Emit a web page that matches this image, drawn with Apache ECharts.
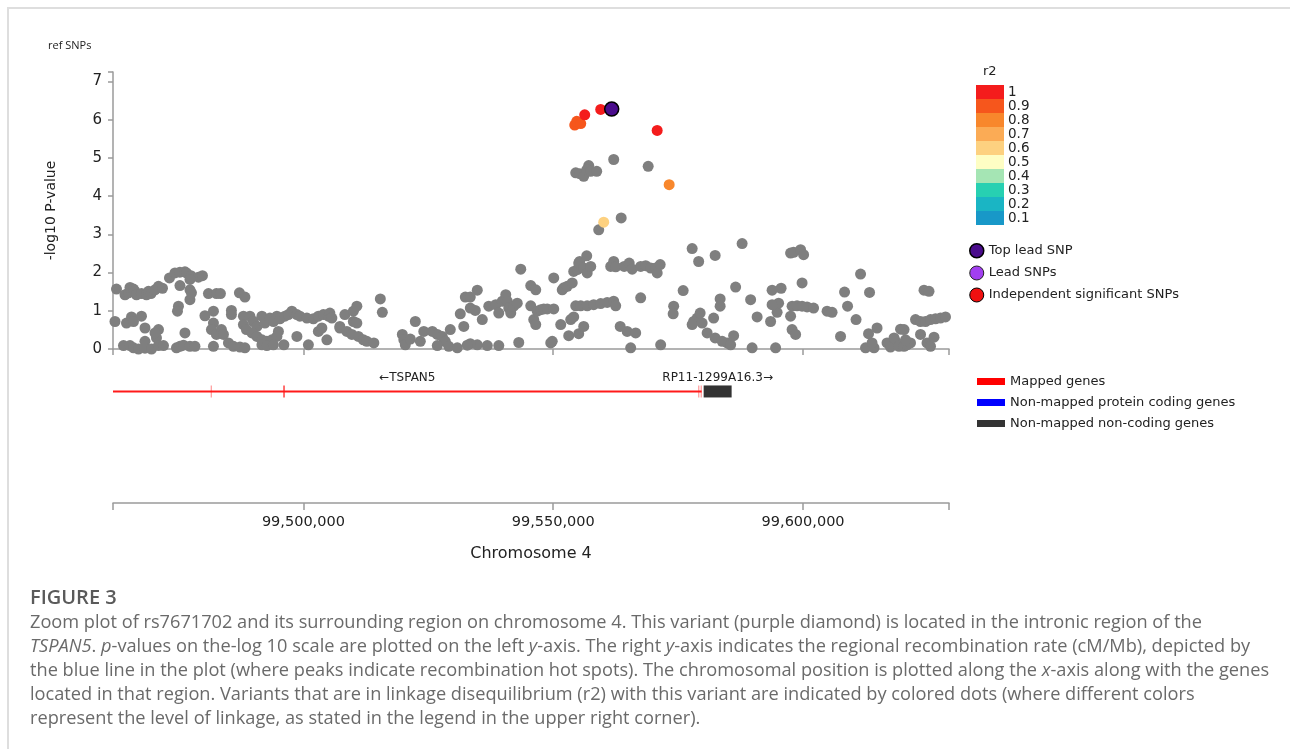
<!DOCTYPE html>
<html><head><meta charset="utf-8">
<script src="https://cdn.jsdelivr.net/npm/echarts@6/dist/echarts.min.js"></script>
<style>
html,body{margin:0;padding:0;background:#fff;}
#chart{position:absolute;left:0;top:0;width:1290px;height:749px;}
#frame{position:absolute;left:7px;top:7px;right:0;bottom:0;border-top:2px solid #dedede;border-left:2px solid #dedede;pointer-events:none;}
#caption{position:absolute;left:30px;top:585px;font-family:'Open Sans',sans-serif;font-size:18.2px;line-height:24px;color:#6a6a6a;white-space:nowrap;}
#caption .fig{font-weight:600;color:#5a5a5a;font-size:20px;}
</style></head>
<body>
<div id="chart"></div>
<div id="frame"></div>
<div id="caption"><span class="fig">FIGURE 3</span><br>Zoom plot of rs7671702 and its surrounding region on chromosome 4. This variant (purple diamond) is located in the intronic region of the<br><i>TSPAN5</i>. <i>p</i>-values on the-log 10 scale are plotted on the left <i>y</i>-axis. The right <i>y</i>-axis indicates the regional recombination rate (cM/Mb), depicted by<br>the blue line in the plot (where peaks indicate recombination hot spots). The chromosomal position is plotted along the <i>x</i>-axis along with the genes<br>located in that region. Variants that are in linkage disequilibrium (r2) with this variant are indicated by colored dots (where different colors<br>represent the level of linkage, as stated in the legend in the upper right corner).</div>
<script>
// ---------- data ----------
const xMin = 99461900;
const xMax = 99629200;
const xTicks = [99500000, 99550000, 99600000];
const yMax = 7.25;
const yTicks = [0, 1, 2, 3, 4, 5, 6, 7];

// SNPs not in LD with the lead SNP (grey): [position, -log10 P]
const greySNPs = [
[99462600,1.57],[99464300,1.42],[99465000,1.47],[99465300,1.61],[99466000,1.57],[99466300,1.51],[99466600,1.42],[99467600,1.45],[99468600,1.42],[99469000,1.51],[99469500,1.45],[99470300,1.55],[99471000,1.64],[99471800,1.59],
[99473200,1.86],[99474300,1.99],[99475300,2.01],[99476300,2.02],[99476600,1.99],[99477500,1.92],[99479000,1.88],[99479800,1.92],[99475300,1.66],[99477300,1.82],[99477300,1.55],[99477300,1.29],[99477600,1.47],[99475000,1.12],[99474800,0.99],[99481000,1.45],[99482600,1.45],[99483400,1.45],[99487200,1.47],[99488300,1.36],
[99462300,0.72],[99464600,0.68],[99465600,0.84],[99466000,0.72],[99467600,0.86],[99468300,0.55],[99471000,0.51],[99468300,0.20],[99470600,0.29],[99470300,0.42],[99476300,0.42],[99480300,0.87],[99482000,0.99],[99482000,0.68],[99481600,0.51],[99482600,0.38],[99483600,0.51],[99484000,0.38],[99485600,1.01],[99485600,0.90],[99488000,0.86],[99488000,0.64],[99489300,0.86],[99490000,0.72],[99490700,0.59],[99491700,0.86],[99492300,0.68],[99493300,0.81],[99494000,0.72],[99494700,0.86],[99495300,0.79],[99496300,0.86],[99497000,0.90],[99497700,0.99],[99498700,0.90],[99499300,0.86],[99500700,0.81],[99502000,0.79],[99503000,0.86],[99504000,0.90],[99505000,0.86],[99505300,0.94],[99505700,0.81],[99507300,0.59],[99508300,0.90],[99510000,0.99],[99510700,1.12],[99510000,0.72],[99510700,0.68],
[99488600,0.51],[99489700,0.42],[99490700,0.33],[99491700,0.24],[99492700,0.20],[99493700,0.24],[99494700,0.33],[99495000,0.46],[99496100,0.11],[99498700,0.33],[99503000,0.46],[99503700,0.55],[99504700,0.24],[99507300,0.55],[99508700,0.46],[99509700,0.38],[99511000,0.33],[99512000,0.24],[99512700,0.20],
[99464000,0.09],[99465300,0.09],[99466000,0.03],[99467000,0.00],[99468300,0.02],[99469600,0.00],[99471000,0.09],[99472000,0.09],[99474600,0.03],[99475300,0.07],[99476000,0.10],[99477300,0.07],[99478300,0.07],[99482000,0.07],[99485000,0.16],[99486000,0.07],[99487300,0.05],[99488300,0.03],[99491700,0.11],[99492700,0.09],[99494000,0.11],[99501000,0.11],
[99514100,0.16],[99515400,1.31],[99515800,0.96],[99519800,0.38],[99520100,0.24],[99520400,0.11],[99521400,0.26],[99522400,0.72],[99523400,0.20],[99524100,0.46],[99525800,0.46],[99526800,0.38],[99527800,0.33],[99528400,0.20],[99529400,0.51],[99529100,0.07],[99530800,0.03],[99531400,0.92],[99532100,0.59],[99532400,1.36],[99533400,1.36],[99533400,1.07],[99534400,1.01],[99534800,1.54],[99535800,0.77],[99537100,1.12],[99538500,1.16],[99539100,0.94],[99539800,1.25],[99540500,1.42],[99540800,1.25],[99541100,1.07],[99541500,0.94],[99542100,1.12],[99542800,1.20],[99543500,2.09],[99545500,1.66],[99546500,1.55],[99545500,1.13],[99546100,0.77],[99546500,0.64],[99546800,0.99],[99547500,1.03],[99548100,1.05],[99548800,1.05],[99550100,1.05],[99550100,1.86],[99549800,0.20],[99549500,0.16],[99543100,0.17],[99539100,0.09],[99536800,0.09],[99534800,0.11],[99533400,0.14],[99532800,0.10],[99526800,0.09],
[99551500,0.64],[99551800,1.55],[99552100,1.60],[99552800,1.64],[99553800,1.73],[99553500,0.77],[99554100,0.84],[99553100,0.35],[99555100,0.40],[99556100,0.59],[99554100,2.03],[99554800,2.08],[99555100,2.25],[99555300,2.29],[99556700,2.44],[99556100,2.12],[99556800,1.99],[99557500,2.16],[99554500,1.13],[99555500,1.13],[99556800,1.13],[99558100,1.16],[99559500,1.19],[99560800,1.22],[99562100,1.25],[99562500,1.13],[99561500,2.16],[99562100,2.29],[99562500,2.15],[99564200,2.16],[99565200,2.25],[99565800,2.09],[99567500,2.16],[99568500,2.18],[99569500,2.12],[99570500,2.12],[99570800,1.99],[99563400,0.59],[99564800,0.46],[99566500,0.42],[99565500,0.03],[99567500,1.34],[99571500,0.11],
[99559100,3.12],[99563600,3.43],[99554500,4.61],[99555300,4.59],[99556100,4.52],[99557100,4.80],[99556700,4.69],[99557500,4.65],[99558700,4.65],[99562100,4.96],[99569000,4.78],
[99571400,2.21],[99577800,2.63],[99579100,2.29],[99582400,2.45],[99587800,2.76],[99576000,1.53],[99574100,1.12],[99574000,0.92],[99578800,0.81],[99578100,0.72],[99577800,0.64],[99579400,0.94],[99579800,0.68],[99580800,0.42],[99582100,0.81],[99582400,0.29],[99583800,0.20],[99584800,0.16],[99585500,0.11],[99586100,0.35],[99583400,1.31],[99583400,1.12],[99586500,1.62],[99589500,1.29],[99590800,0.84],[99589800,0.03],[99594500,0.03],[99593500,0.72],[99594800,0.96],[99595100,1.20],[99593800,1.16],[99593800,1.54],[99595600,1.59],[99597500,2.51],[99598100,2.53],[99599500,2.60],[99600100,2.47],[99599800,1.73],[99597800,1.12],[99598800,1.13],[99599800,1.12],[99600800,1.10],[99602100,1.07],[99597500,0.86],[99597800,0.51],[99598500,0.38],[99604800,0.99],[99605800,0.96],[99607500,0.33],[99608900,1.12],[99608300,1.49],[99610600,0.77],[99611500,1.96],[99613300,1.48],[99614800,0.55],[99613100,0.40],[99612500,0.03],[99614200,0.03],[99613800,0.16],[99616800,0.16],[99617500,0.05],[99618500,0.20],[99618200,0.29],[99619500,0.52],[99620200,0.51],[99619200,0.07],[99620200,0.07],[99620800,0.11],[99621500,0.16],[99620500,0.24],[99623500,0.38],[99624800,0.16],[99625500,0.07],[99626200,0.31],[99622500,0.77],[99623500,0.72],[99624500,0.72],[99625500,0.77],[99626500,0.79],[99627500,0.81],[99628500,0.84],[99624200,1.54],[99625200,1.51]
];

// SNPs in LD with the lead SNP: [position, -log10 P, r2]
const ldSNPs = [
[99554300,5.86,0.88],[99554700,5.96,0.90],[99555500,5.90,0.90],[99556300,6.13,0.96],
[99559500,6.27,1.00],[99570800,5.72,1.00],[99573200,4.30,0.78],[99560100,3.32,0.62]
];

const topLeadSNP = [[99561700, 6.28]];
const leadSNPs = [];
const indepSigSNPs = [];

// r2 colour bins
const r2Labels = ['1','0.9','0.8','0.7','0.6','0.5','0.4','0.3','0.2','0.1'];
const r2Low    = [0.95,0.85,0.75,0.65,0.55,0.45,0.35,0.25,0.15,0.05];
const r2High   = [1.00,0.95,0.85,0.75,0.65,0.55,0.45,0.35,0.25,0.15];
const r2Colors = ['#f41c1c','#f6561c','#f8872c','#fbab55','#fdd180','#fefec4','#a5e5b4','#27d0b2','#1ab5c4','#1898c8'];

// genes: [start, end]
const mappedGenes = [{name:'TSPAN5', start:99461900, end:99579700, strand:'-'}];
const mappedExons = [[99481450,99481550],[99496000,99496250],[99579000,99579150],[99579500,99579650]];
const proteinGenes = [];
const nonCodingGenes = [{name:'RP11-1299A16.3', start:99580100, end:99585700, strand:'+'}];
const geneRow = 7.8;

// ---------- chart ----------
const chart = echarts.init(document.getElementById('chart'));
const axisCol = '#9a9a9a';
const txtCol = '#222';
const FONT = 'DejaVu Sans';

function fmt(v){ return Math.round(v).toString().replace(/\B(?=(\d{3})+(?!\d))/g, ','); }

function makeGeneRenderer(genes, exons, boxStyle){
  return function(params, api){
    const g = genes[params.dataIndex];
    const y = api.coord([xMin, api.value(2)])[1];
    const x0 = api.coord([api.value(0), api.value(2)])[0];
    const x1 = api.coord([api.value(1), api.value(2)])[0];
    const color = api.visual('color');
    const children = [];
    if (boxStyle) {
      children.push({type:'rect', shape:{x:x0, y:y-6, width:x1-x0, height:12}, style:{fill:color}});
    } else {
      children.push({type:'rect', shape:{x:x0, y:y-1, width:x1-x0, height:2}, style:{fill:color}});
      exons.forEach(function(e){
        const a = api.coord([e[0], api.value(2)])[0];
        const b = api.coord([e[1], api.value(2)])[0];
        children.push({type:'rect', shape:{x:a, y:y-6, width:Math.max(1.2, b-a), height:12}, style:{fill:color, opacity: (b-a) < 1 ? 0.45 : 1}});
      });
    }
    const label = g.strand === '-' ? '\u2190' + g.name : g.name + '\u2192';
    children.push({type:'text', x:(x0+x1)/2, y:y-14, style:{text:label, fill:txtCol, font:'12px "DejaVu Sans"', align:'center', verticalAlign:'middle'}});
    return {type:'group', children:children};
  };
}

const pieces = r2Labels.map(function(l, i){
  const p = {label:l, color:r2Colors[i], gte:r2Low[i]};
  if (i === 0) p.lte = r2High[i]; else p.lt = r2High[i];
  return p;
});

const option = {
  animation:false,
  backgroundColor:'transparent',
  textStyle:{fontFamily:FONT},
  grid:[
    {left:113, right:341, top:72, height:277},
    {left:113, right:341, top:360, height:143}
  ],
  xAxis:[
    {gridIndex:0, type:'value', min:xMin, max:xMax,
     axisLine:{lineStyle:{color:axisCol, width:1.5}},
     axisTick:{customValues:[xMin].concat(xTicks,[xMax]), length:6, lineStyle:{color:axisCol, width:1.5}},
     axisLabel:{show:false}, splitLine:{show:false}},
    {gridIndex:1, type:'value', min:xMin, max:xMax, position:'bottom',
     axisLine:{lineStyle:{color:axisCol, width:1.5}},
     axisTick:{customValues:[xMin].concat(xTicks,[xMax]), length:7, lineStyle:{color:axisCol, width:1.5}},
     axisLabel:{customValues:xTicks, formatter:fmt, fontSize:14.5, color:txtCol, margin:12, fontFamily:FONT},
     splitLine:{show:false},
     name:'Chromosome 4', nameLocation:'middle', nameGap:43,
     nameTextStyle:{fontSize:16, color:txtCol, fontFamily:FONT}},
    ],
  yAxis:[
    {gridIndex:0, type:'value', min:0, max:yMax,
     axisLine:{show:true, lineStyle:{color:axisCol, width:1.5}},
     axisTick:{show:true, customValues:yTicks.concat([yMax]), length:5, lineStyle:{color:axisCol, width:1.5}},
     axisLabel:{customValues:yTicks, fontSize:15, color:txtCol, margin:11, fontFamily:FONT},
     splitLine:{show:false},
     name:'-log10 P-value', nameLocation:'middle', nameGap:55,
     nameTextStyle:{fontSize:14, color:txtCol, fontFamily:FONT}},
    {gridIndex:1, type:'value', min:0, max:10, show:false}
  ],
  visualMap:[{
    type:'piecewise', seriesIndex:1, dimension:2,
    left:976, top:85, padding:0, orient:'vertical', align:'left',
    itemWidth:28, itemHeight:14, itemGap:0, itemSymbol:'rect',
    textGap:4, showLabel:true, selectedMode:false, hoverLink:false,
    textStyle:{fontSize:13.5, color:txtCol, fontFamily:FONT},
    pieces:pieces, outOfRange:{color:'#808080'}
  }],
  legend:[
    {orient:'vertical', left:969, top:243, padding:0, itemGap:7, itemWidth:14, itemHeight:14,
     selectedMode:false, icon:'circle',
     textStyle:{fontSize:13, color:txtCol, fontFamily:FONT},
     data:[
       {name:'Top lead SNP', itemStyle:{color:'#4a0c8c', borderColor:'#000', borderWidth:1.5, opacity:1}},
       {name:'Lead SNPs', itemStyle:{color:'#a23ff0', borderColor:'#222', borderWidth:1, opacity:1}},
       {name:'Independent significant SNPs', itemStyle:{color:'#f01010', borderColor:'#000', borderWidth:1, opacity:1}}
     ]},
    {orient:'vertical', left:977, top:375, padding:0, itemGap:8, itemWidth:28, itemHeight:13,
     selectedMode:false, icon:'rect',
     textStyle:{fontSize:13, color:txtCol, fontFamily:FONT},
     data:[
       {name:'Mapped genes', icon:'path://M0,3H28V10H0Z', itemStyle:{color:'#ff0000', opacity:1}},
       {name:'Non-mapped protein coding genes', icon:'path://M0,3H28V10H0Z', itemStyle:{color:'#0000ff', opacity:1}},
       {name:'Non-mapped non-coding genes', icon:'path://M0,3H28V10H0Z', itemStyle:{color:'#333333', opacity:1}}
     ]}
  ],
  graphic:[
    {type:'text', left:48, top:40, style:{text:'ref SNPs', fill:txtCol, font:'11px "Open Sans"'}},
    {type:'text', left:983, top:65, style:{text:'r2', fill:txtCol, font:'13px "DejaVu Sans"'}}
  ],
  series:[
    {name:'other SNPs', type:'scatter', xAxisIndex:0, yAxisIndex:0, data:greySNPs,
     symbolSize:11, itemStyle:{color:'#7f7f7f', opacity:1}, silent:true},
    {name:'LD SNPs', type:'scatter', xAxisIndex:0, yAxisIndex:0, data:ldSNPs,
     symbolSize:11, itemStyle:{opacity:1}, silent:true},
    {name:'Top lead SNP', type:'scatter', xAxisIndex:0, yAxisIndex:0, data:topLeadSNP,
     symbolSize:14, itemStyle:{color:'#4a0c8c', borderColor:'#000', borderWidth:1.5, opacity:1}, z:5, silent:true},
    {name:'Lead SNPs', type:'scatter', xAxisIndex:0, yAxisIndex:0, data:leadSNPs,
     symbolSize:12, itemStyle:{color:'#a23ff0', borderColor:'#222', borderWidth:1, opacity:1}},
    {name:'Independent significant SNPs', type:'scatter', xAxisIndex:0, yAxisIndex:0, data:indepSigSNPs,
     symbolSize:10, itemStyle:{color:'#f01010', borderColor:'#000', borderWidth:1, opacity:1}},
    {name:'Mapped genes', type:'custom', xAxisIndex:1, yAxisIndex:1,
     itemStyle:{color:'#ff1a1a'},
     renderItem:makeGeneRenderer(mappedGenes, mappedExons, false),
     data:mappedGenes.map(function(g){ return [g.start, g.end, geneRow]; }), silent:true},
    {name:'Non-mapped protein coding genes', type:'custom', xAxisIndex:1, yAxisIndex:1,
     itemStyle:{color:'#0000ff'},
     renderItem:makeGeneRenderer(proteinGenes, [], true),
     data:proteinGenes.map(function(g){ return [g.start, g.end, geneRow]; })},
    {name:'Non-mapped non-coding genes', type:'custom', xAxisIndex:1, yAxisIndex:1,
     itemStyle:{color:'#333333'},
     renderItem:makeGeneRenderer(nonCodingGenes, [], true),
     data:nonCodingGenes.map(function(g){ return [g.start, g.end, geneRow]; }), silent:true}
  ]
};
chart.setOption(option);
</script>
</body></html>
